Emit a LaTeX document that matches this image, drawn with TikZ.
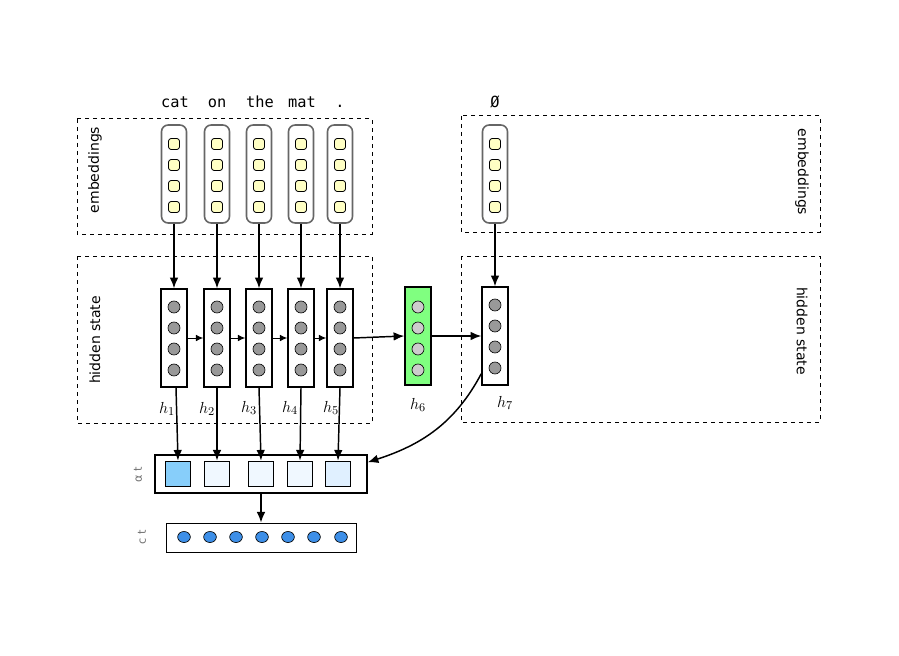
\documentclass[tikz,border=0pt]{standalone}
\usepackage{fontspec}
\setsansfont{DejaVu Sans}
\newfontfamily\wordfont{DejaVu Sans Mono}
\newfontfamily\labfont{DejaVu Sans}
\usetikzlibrary{arrows.meta,shapes.geometric}
\definecolor{embfill}{HTML}{FFFFC4}
\definecolor{neurongray}{HTML}{999999}
\definecolor{lightneuron}{HTML}{CCCCCC}
\definecolor{hsix}{HTML}{80FF80}
\definecolor{attstrong}{HTML}{87CEFA}
\definecolor{attweak}{HTML}{F0F8FF}
\definecolor{attmid}{HTML}{E0F0FF}
\definecolor{ctxblue}{HTML}{3D8FE8}
\tikzset{
  region/.style={draw, dashed, line width=0.75pt},
  regionlabel/.style={font=\labfont\fontsize{10.5}{12}\selectfont},
  word/.style={font=\wordfont\fontsize{11.5}{13}\selectfont, anchor=base},
  embcol/.style={draw=black!60, line width=1.2pt, rounded corners=5pt,
    minimum width=18.75pt, minimum height=73.5pt, inner sep=0pt},
  embunit/.style={draw=black, line width=0.6pt, fill=embfill, rounded corners=2pt,
    minimum size=8.25pt, inner sep=0pt},
  hidbox/.style={draw, line width=1.1pt, fill=white,
    minimum width=19.5pt, minimum height=73.5pt, inner sep=0pt},
  neuron/.style={circle, draw=black, line width=0.5pt, fill=neurongray,
    minimum size=9pt, inner sep=0pt},
  hlabel/.style={font=\fontsize{13}{15}\selectfont},
  attsq/.style={draw, line width=0.6pt, minimum size=18.75pt, inner sep=0pt},
  ctxunit/.style={ellipse, draw=black, line width=0.5pt, fill=ctxblue,
    minimum width=9.5pt, minimum height=8.25pt, inner sep=0pt},
  sidelabel/.style={font=\labfont\fontsize{8.5}{10}\selectfont, text=black!55, rotate=90},
  arr/.style={line width=1.1pt, -{Latex[length=8pt,width=6.5pt]}},
  smallarr/.style={line width=0.75pt, -{Latex[length=5.5pt,width=5pt]}},
}
\begin{document}
\begin{tikzpicture}[x=0.75pt, y=-0.75pt]
\useasboundingbox (0,0) rectangle (899,656);

% dashed regions
\draw[region] (77,119) rectangle (372,234);
\draw[region] (77,256) rectangle (372,423);
\draw[region] (461,116) rectangle (820,232);
\draw[region] (461,256) rectangle (820,422);

\node[regionlabel, rotate=90] (lemb) at (95,170) {embeddings};
\node[regionlabel, rotate=90] (lhid) at (95,340) {hidden state};
\node[regionlabel, rotate=-90] (remb) at (802,172) {embeddings};
\node[regionlabel, rotate=-90] (rhid) at (802,331) {hidden state};

% input words
\node[word] (w1) at (175,108) {cat};
\node[word] (w2) at (217,108) {on};
\node[word] (w3) at (260,108) {the};
\node[word] (w4) at (302,108) {mat};
\node[word] (w5) at (340,108) {.};
\node[word] (w7) at (495,108) {Ø};

% embedding columns
\foreach \n/\x in {1/174,2/217,3/259,4/301,5/340,7/495}{
  \node[embcol] (e\n) at (\x,174) {};
  \foreach \k/\y in {1/144,2/165,3/186,4/207}
    \node[embunit] (e\n u\k) at (\x,\y) {};
}

% encoder hidden states
\foreach \n/\x in {1/174,2/217,3/259,4/301,5/340}{
  \node[hidbox] (h\n) at (\x,338) {};
  \foreach \k/\y in {1/307,2/328,3/349,4/370}
    \node[neuron] (h\n n\k) at (\x,\y) {};
}
\node[hidbox, fill=hsix] (h6) at (418,336) {};
\foreach \k/\y in {1/307,2/328,3/349,4/370}
  \node[neuron, fill=lightneuron] (h6n\k) at (418,\y) {};
\node[hidbox] (h7) at (495,336) {};
\foreach \k/\y in {1/305,2/326,3/347,4/368}
  \node[neuron] (h7n\k) at (495,\y) {};

% state labels
\node[hlabel] (lh1) at (167,409) {$h_1$};
\node[hlabel] (lh2) at (207,409) {$h_2$};
\node[hlabel] (lh3) at (249,408) {$h_3$};
\node[hlabel] (lh4) at (290,408) {$h_4$};
\node[hlabel] (lh5) at (331,408) {$h_5$};
\node[hlabel] (lh6) at (418,405) {$h_6$};
\node[hlabel] (lh7) at (505,403) {$h_7$};

% attention weights
\node[draw, line width=1.1pt, minimum width=159pt, minimum height=28.5pt, inner sep=0pt] (att) at (261,474) {};
\node[attsq, fill=attstrong] (a1) at (178,473.5) {};
\node[attsq, fill=attweak] (a2) at (217,473.5) {};
\node[attsq, fill=attweak] (a3) at (261,473.5) {};
\node[attsq, fill=attweak] (a4) at (300,473.5) {};
\node[attsq, fill=attmid] (a5) at (338,473.5) {};

% context vector
\node[draw, line width=0.6pt, minimum width=142.5pt, minimum height=21.75pt, inner sep=0pt] (ctx) at (261,537.5) {};
\foreach \k/\x in {1/184,2/210,3/236,4/262,5/288,6/314,7/341}
  \node[ctxunit] (c\k) at (\x,537) {};

\node[sidelabel] (lalpha) at (138,475) {α t};
\node[sidelabel] (lctx) at (142,537) {c t};

% embeddings feed the hidden states
\foreach \n in {1,2,3,4,5,7}
  \draw[arr] (e\n) -- (h\n);

% recurrence
\draw[smallarr] (h1) -- (h2);
\draw[smallarr] (h2) -- (h3);
\draw[smallarr] (h3) -- (h4);
\draw[smallarr] (h4) -- (h5);
\draw[arr] (h5.east) -- (h6.west);
\draw[arr] (h6.east) -- (h7.west);

% encoder states to attention weights
\draw[arr] ([xshift=1.5pt]h1.south) -- (a1.north);
\foreach \n in {2,3,4,5}
  \draw[arr] (h\n.south) -- (a\n.north);

% decoder state queries the attention
\draw[arr] ([yshift=9pt]h7.south west) to[out=-118, in=18] ([yshift=-6pt]att.north east);

% weighted sum into the context vector
\draw[arr] (att.south) -- (ctx.north);
\end{tikzpicture}
\end{document}
